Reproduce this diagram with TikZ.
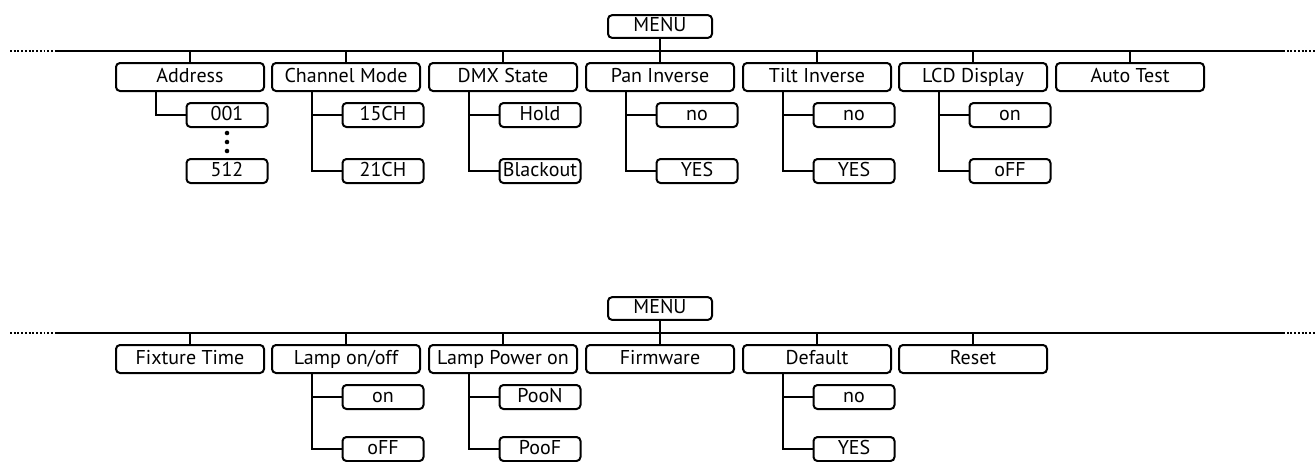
\documentclass[tikz,border=0pt]{standalone}
\usepackage{fontspec}
\setmainfont{PT Sans}
\usetikzlibrary{positioning}

\begin{document}
\begin{tikzpicture}[
    x=0.75pt, y=-0.75pt,
    line width=1.5pt,
    item/.style = {draw, rounded corners=3pt, minimum width=111pt, minimum height=21pt,
                   inner sep=0pt, text height=10.5pt, text depth=2.5pt,
                   font=\fontsize{15}{18}\selectfont},
    menubox/.style = {item, minimum width=78pt, minimum height=17pt},
    opt/.style = {item, minimum width=60.75pt, minimum height=18pt},
    dotline/.style = {dash pattern=on 1.4pt off 1.4pt}
  ]
  \clip (0,0) rectangle (1316,461);

  % ---- first menu, coordinates in px of the page
  \node[menubox] (menuA) at (660,26.5) {MENU};
  \coordinate (dotAl) at (10,51);   \coordinate (busAl) at (57,51);
  \coordinate (busAr) at (1283,51); \coordinate (dotAr) at (1316,51);

  \node[item] (addr) at (190,77)  {Address};
  \node[item] (chm)  at (346,77)  {Channel Mode};
  \node[item] (dmx)  at (503,77)  {DMX State};
  \node[item] (pan)  at (660,77)  {Pan Inverse};
  \node[item] (tilt) at (817,77)  {Tilt Inverse};
  \node[item] (lcd)  at (973,77)  {LCD Display};
  \node[item] (auto) at (1130,77) {Auto Test};

  \node[opt] (a001)  at (227,115)  {001};
  \node[opt] (a512)  at (227,171)  {512};
  \node[opt] (ch15)  at (383,115)  {15CH};
  \node[opt] (ch21)  at (383,171)  {21CH};
  \node[opt] (hold)  at (540,115)  {Hold};
  \node[opt] (black) at (540,171)  {Blackout};
  \node[opt] (panno) at (697,115)  {no};
  \node[opt] (panye) at (697,171)  {YES};
  \node[opt] (tilno) at (854,115)  {no};
  \node[opt] (tilye) at (854,171)  {YES};
  \node[opt] (lcdon) at (1010,115) {on};
  \node[opt] (lcdof) at (1010,171) {oFF};

  \draw[dotline] (dotAl) -- (busAl);
  \draw[dotline] (busAr) -- (dotAr);
  \draw (busAl) -- (busAr);
  \draw (menuA) -- (menuA |- busAl);
  \foreach \n in {addr,chm,dmx,pan,tilt,lcd,auto}
    \draw (\n) -- (\n |- busAl);

  % stems to the options
  \draw ([xshift=-25.5pt]addr.south) |- (a001);
  \foreach \p/\a/\b in {chm/ch15/ch21, dmx/hold/black, pan/panno/panye,
                        tilt/tilno/tilye, lcd/lcdon/lcdof} {
    \coordinate (\p s) at ([xshift=-25.5pt]\p.south);
    \draw (\p s) |- (\b);
    \draw (\a) -- (\a -| \p s);
  }
  \foreach \y in {133,142,151}
    \fill (227,\y) circle[radius=1.7pt];

  % ---- second menu
  \node[menubox] (menuB) at (660,308.5) {MENU};
  \coordinate (dotBl) at (10,333);   \coordinate (busBl) at (57,333);
  \coordinate (busBr) at (1283,333); \coordinate (dotBr) at (1316,333);

  \node[item] (fix)   at (190,359) {Fixture Time};
  \node[item] (lamp)  at (346,359) {Lamp on/off};
  \node[item] (lpow)  at (503,359) {Lamp Power on};
  \node[item] (firm)  at (660,359) {Firmware};
  \node[item] (deflt) at (817,359) {Default};
  \node[item] (reset) at (973,359) {Reset};

  \node[opt] (lampon) at (383,397) {on};
  \node[opt] (lampof) at (383,449) {oFF};
  \node[opt] (poon)   at (540,397) {PooN};
  \node[opt] (poof)   at (540,449) {PooF};
  \node[opt] (defno)  at (854,397) {no};
  \node[opt] (defye)  at (854,449) {YES};

  \draw[dotline] (dotBl) -- (busBl);
  \draw[dotline] (busBr) -- (dotBr);
  \draw (busBl) -- (busBr);
  \draw (menuB) -- (menuB |- busBl);
  \foreach \n in {fix,lamp,lpow,firm,deflt,reset}
    \draw (\n) -- (\n |- busBl);

  \foreach \p/\a/\b in {lamp/lampon/lampof, lpow/poon/poof, deflt/defno/defye} {
    \coordinate (\p s) at ([xshift=-25.5pt]\p.south);
    \draw (\p s) |- (\b);
    \draw (\a) -- (\a -| \p s);
  }
\end{tikzpicture}
\end{document}
